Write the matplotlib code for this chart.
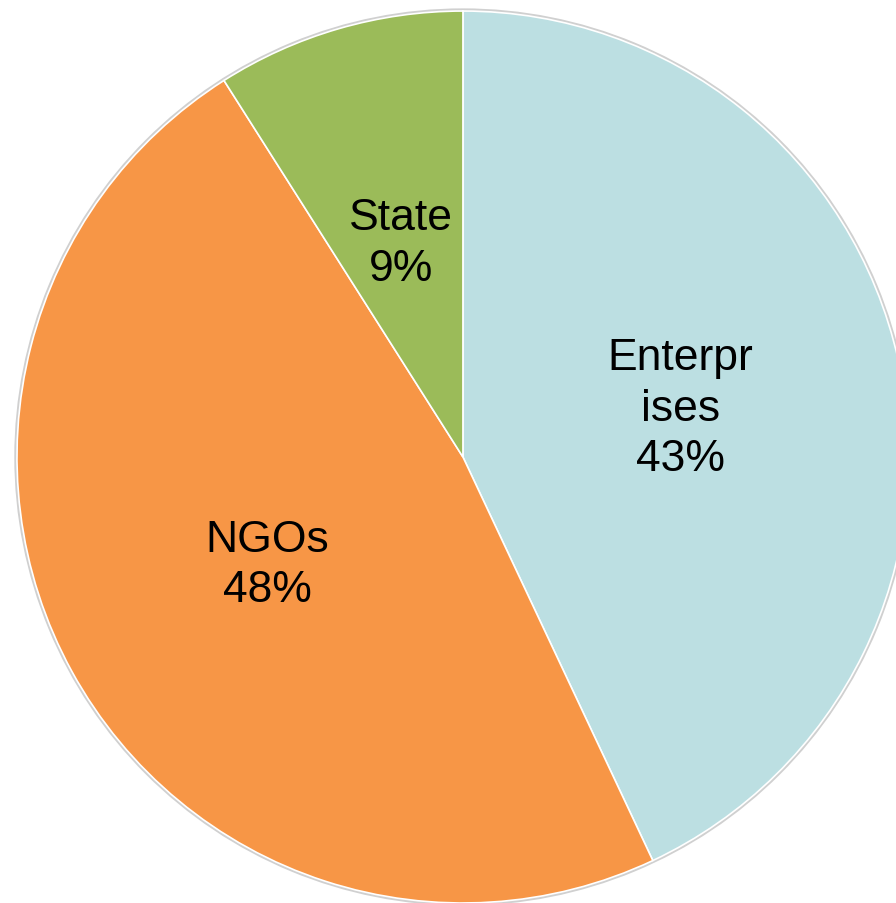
import matplotlib.pyplot as plt

# 数据
names = ["Enterpr\nises", "NGOs", "State"]
shares = [43, 48, 9]
colors = ["#BCDFE2", "#F79646", "#9BBB59"]

plt.rcParams['font.family'] = ['Liberation Sans', 'DejaVu Sans']

fig = plt.figure(figsize=(8.96, 9.04), dpi=100)
ax = fig.add_axes([0, 0, 1, 1])

def make_label(pct):
    # 按百分比找到对应名称
    idx = min(range(len(shares)), key=lambda i: abs(shares[i] - pct))
    return f"{names[idx]}\n{shares[idx]}%"

# 外圈淡灰阴影
ax.pie([1], colors=['#D0D0D0'], radius=1.006, startangle=90,
       wedgeprops={'linewidth': 0})

wedges, texts, autotexts = ax.pie(shares, colors=colors, startangle=90, counterclock=False,
                                  autopct=make_label, pctdistance=0.5,
                                  wedgeprops={'edgecolor': 'white', 'linewidth': 1.2},
                                  textprops={'fontsize': 32, 'color': 'black', 'linespacing': 1.3})

ax.set_xlim(-1.038, 0.971)
ax.set_ylim(-1.0, 1.027)
ax.set_aspect('equal')
ax.axis('off')

plt.savefig("out.png", dpi=100)
